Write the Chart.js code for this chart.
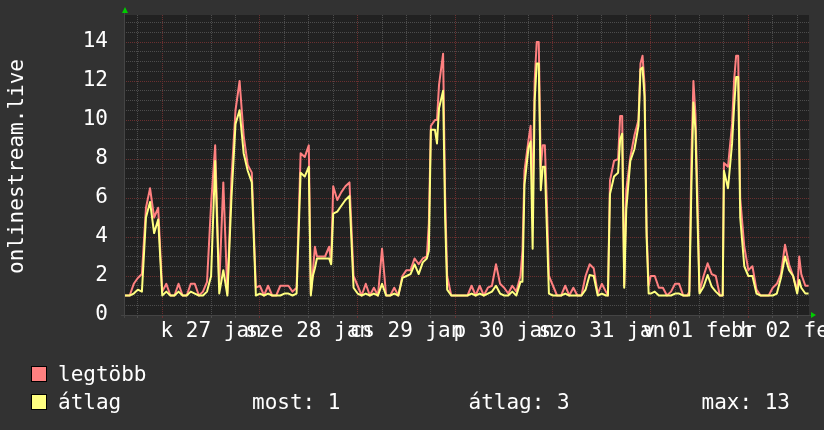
<!DOCTYPE html>
<html><head><meta charset="utf-8">
<script src="https://cdn.jsdelivr.net/npm/chart.js@4.4.1/dist/chart.umd.min.js"></script>
<style>
html,body{margin:0;padding:0;background:#323232;overflow:hidden;}
canvas{display:block;}
</style></head><body>
<canvas id="c" width="824" height="430"></canvas>
<script>
// hours since 2015-01-26 00:00
const hours = [14.6,15,16,17,18,19,20,21,22,23,24,25,26,27,28,29,30,31,32,33,34,35,36,37,38,39,40,41,42,43,44,45,46,47,48,49,50,51,52,53,54,55,56,57,58,59,60,60.5,61,61.5,62,63,64,65,65.5,66,67,68,69,70,71,72,73,74,75,76,77,78,79,80,81,82,83,84,85,86,87,88,89,89.5,90,91,91.5,92,93,93.5,94,95,96,97,98,99,100,101,102,103,104,105,106,107,108,109,110,111,112,112.5,113,114,114.5,115,115.5,116,116.5,117,117.5,118,118.5,119,120,121,122,123,124,125,126,127,128,129,130,131,132,133,133.5,134,135,136,136.5,137,137.5,138,139,140,141,141.5,142,142.5,143,143.5,144,145,146,147,148,149,150,151,152,153,153.5,154,154.5,155,155.5,156,157,158,159,160,161,161.7,162,163,164,164.5,165,165.5,166,167,168,169,170,171,172,173,174,175,176,177,178,179,180,180.5,181,182,182.8];
const maxValues = [1,1,1,1.6,1.9,2.1,5.5,6.5,5.0,5.5,1.2,1.6,1,1,1.6,1,1,1.6,1.6,1,1.2,1.7,5.7,8.7,1.5,6.8,1.1,7.0,10.5,12.0,9.2,7.7,7.3,1.4,1.5,1,1.5,1,1,1.5,1.5,1.5,1.2,1.4,8.3,8.1,8.7,1.1,2.2,3.5,3.0,3.0,3.0,3.5,2.7,6.6,5.9,6.3,6.6,6.8,2.0,1.5,1,1.6,1,1.4,1,3.4,1,1,1.4,1,2.0,2.3,2.3,2.9,2.6,2.9,3.0,4.7,9.7,10.0,10.0,11.8,13.4,6.1,2.0,1,1,1,1,1,1.5,1,1.5,1,1.4,1.5,2.6,1.6,1.4,1.1,1.5,1.2,2.0,3.3,7.4,9.0,9.7,6.0,12.0,14.0,14.0,7.6,8.7,8.7,5.7,2.0,1.5,1,1,1.5,1,1.4,1,1,2.0,2.6,2.4,1.1,1.6,1.2,1.0,6.9,7.9,8.0,10.2,10.2,1.5,6.4,8.1,9.2,10.0,12.9,13.3,11.8,4.4,1.5,2.0,2.0,1.4,1.4,1,1.2,1.6,1.6,1,1,1.2,8.0,12.0,10.3,6.1,1.2,2.0,2.65,2.1,2.0,1,1,7.8,7.6,9.8,12.05,13.3,13.3,6.0,3.5,2.3,2.5,1.3,1,1,1,1.4,1.6,2.1,3.6,2.6,2.0,1.2,3.0,2.1,1.5,1.5];
const avgValues = [1,1,1,1.1,1.3,1.2,5.0,5.8,4.2,4.9,1.0,1.2,1,1,1.2,1,1,1.2,1.1,1,1.0,1.2,2.0,7.9,1.1,2.3,1.0,6.0,9.8,10.5,8.3,7.4,6.8,1.0,1.1,1,1.1,1,1,1.0,1.1,1.1,1.0,1.1,7.3,7.1,7.6,1.0,2.0,2.4,2.9,2.9,2.9,2.9,2.6,5.2,5.3,5.6,5.9,6.1,1.4,1.1,1,1.1,1,1.1,1,1.6,1,1,1.1,1,1.9,2.0,2.1,2.6,2.1,2.7,2.9,3.3,9.5,9.5,8.8,10.6,11.5,5.0,1.3,1,1,1,1,1,1.1,1,1.1,1,1.1,1.2,1.5,1.1,1.0,1.0,1.2,1.0,1.7,1.7,6.7,8.6,8.9,3.4,11.0,12.9,12.9,6.4,7.6,7.6,4.4,1.1,1.0,1,1,1.1,1,1.0,1,1,1.3,2.05,2.0,1.0,1.1,1.0,1.0,6.2,7.1,7.3,9.0,9.3,1.4,5.4,7.9,8.5,9.7,12.6,12.7,11.2,4.0,1.1,1.1,1.2,1.0,1.0,1,1.0,1.1,1.1,1,1,1.0,6.5,10.9,9.5,5.0,1.1,1.45,2.05,1.45,1.2,1,1,7.4,6.5,8.8,10.7,12.2,12.2,5.0,2.5,2.0,2.0,1.1,1,1,1,1.0,1.1,1.9,3.0,2.3,2.0,1.1,1.8,1.4,1.1,1.1];
const dayLabels = ['k 27 jan','sze 28 jan','cs 29 jan','p 30 jan','szo 31 jan','v 01 febr','h 02 febr'];
const dayNoons = [36,60,84,108,132,156,180];
const yTickValues = [0,2,4,6,8,10,12,14];
const seriesNames = ['legtöbb','átlag'];
const statTexts = ['most: 1','átlag: 3','max: 13'];
const axisTitle = 'onlinestream.live';

const FONT = 'DejaVu Sans Mono';
const RED = '#ff8080', YEL = '#ffff80';
const MAJOR = '#6a3030', MINOR = '#4c4c4c';
const xMin = 14.6, xMax = 182.9, yMax = 15.385;

const rrdPlugin = {
  id: 'rrd',
  beforeDraw(chart) {
    const {ctx, chartArea: a} = chart;
    ctx.save();
    ctx.fillStyle = '#323232';
    ctx.fillRect(0, 0, chart.width, chart.height);
    ctx.fillStyle = '#212121';
    ctx.fillRect(a.left, a.top, a.right - a.left, a.bottom - a.top);
    ctx.restore();
  },
  afterDraw(chart) {
    const {ctx, chartArea: a} = chart;
    ctx.save();
    ctx.strokeStyle = '#444444'; ctx.lineWidth = 1;
    ctx.beginPath();
    ctx.moveTo(a.left - 3, a.bottom + 0.5); ctx.lineTo(a.right + 2, a.bottom + 0.5);
    ctx.moveTo(a.left + 0.5, a.bottom + 3); ctx.lineTo(a.left + 0.5, a.top - 2);
    ctx.stroke();
    ctx.fillStyle = '#00cc00';
    ctx.beginPath();
    ctx.moveTo(a.left + 1, a.top - 8); ctx.lineTo(a.left - 2, a.top - 2); ctx.lineTo(a.left + 4, a.top - 2); ctx.closePath(); ctx.fill();
    ctx.beginPath();
    ctx.moveTo(a.right + 7, a.bottom); ctx.lineTo(a.right + 2, a.bottom - 3); ctx.lineTo(a.right + 2, a.bottom + 3); ctx.closePath(); ctx.fill();
    ctx.fillStyle = '#ffffff';
    ctx.font = '21px "' + FONT + '"';
    ctx.save();
    ctx.translate(23, 166.5);
    ctx.rotate(-Math.PI / 2);
    ctx.textAlign = 'center'; ctx.textBaseline = 'alphabetic';
    ctx.fillText(axisTitle, 0, 0);
    ctx.restore();
    const rows = [381, 409];
    [RED, YEL].forEach((col, i) => {
      ctx.fillStyle = col;
      ctx.fillRect(31, rows[i] - 15, 16, 16);
      ctx.strokeStyle = '#000'; ctx.lineWidth = 1;
      ctx.strokeRect(31.5, rows[i] - 14.5, 15, 15);
      ctx.fillStyle = '#ffffff';
      ctx.textAlign = 'left'; ctx.textBaseline = 'alphabetic';
      ctx.fillText(seriesNames[i], 58, rows[i]);
    });
    const sx = [252, 468.5, 701.5];
    statTexts.forEach((t, i) => ctx.fillText(t, sx[i], rows[1]));
    ctx.restore();
  }
};

const lineStyle = {borderWidth: 2, pointRadius: 0, tension: 0, fill: false, borderJoinStyle: 'round', borderCapStyle: 'butt'};

new Chart(document.getElementById('c'), {
  type: 'line',
  data: {
    datasets: [
      Object.assign({label: seriesNames[1], data: hours.map((h, i) => ({x: h, y: avgValues[i]})), borderColor: YEL}, lineStyle),
      Object.assign({label: seriesNames[0], data: hours.map((h, i) => ({x: h, y: maxValues[i]})), borderColor: RED}, lineStyle)
    ]
  },
  options: {
    responsive: false, animation: false, devicePixelRatio: 1,
    layout: {padding: {left: 0, right: 15, top: 15, bottom: 0}},
    plugins: {legend: {display: false}, tooltip: {enabled: false}},
    scales: {
      x: {
        type: 'linear', min: xMin, max: xMax,
        afterBuildTicks(s) { const t = []; for (let v = 18; v < xMax; v += 6) t.push({value: v}); s.ticks = t; },
        afterFit(s) { s.height = 115; s.paddingLeft = 0; s.paddingRight = 0; s.paddingTop = 0; s.paddingBottom = 0; },
        ticks: {
          autoSkip: false, maxRotation: 0, minRotation: 0, padding: 3, color: '#ffffff',
          font: {family: FONT, size: 21, lineHeight: 1},
          callback(v) { const i = dayNoons.indexOf(v); return i >= 0 ? dayLabels[i] : ''; }
        },
        grid: {
          color: c => (c.tick && c.tick.value % 24 === 0) ? MAJOR : MINOR,
          tickColor: c => (c.tick && c.tick.value % 24 === 0) ? MAJOR : MINOR,
          lineWidth: 1, drawTicks: true, tickLength: 3, tickBorderDash: []
        },
        border: {display: false, dash: [1, 1]}
      },
      y: {
        min: 0, max: yMax,
        afterBuildTicks(s) { const t = []; for (let v = 0; v <= 15; v += 0.5) t.push({value: v}); s.ticks = t; },
        afterFit(s) { s.width = 124; s.paddingTop = 0; s.paddingBottom = 0; s.paddingLeft = 0; s.paddingRight = 0; },
        ticks: {
          autoSkip: false, padding: 16, color: '#ffffff',
          font: {family: FONT, size: 21},
          callback(v) { return yTickValues.includes(v) ? String(v) : ''; }
        },
        grid: {
          color: c => (c.tick && c.tick.value % 2 === 0) ? MAJOR : MINOR,
          lineWidth: 1, drawTicks: false
        },
        border: {display: false, dash: [1, 1]}
      }
    }
  },
  plugins: [rrdPlugin]
});
</script>
</body></html>
